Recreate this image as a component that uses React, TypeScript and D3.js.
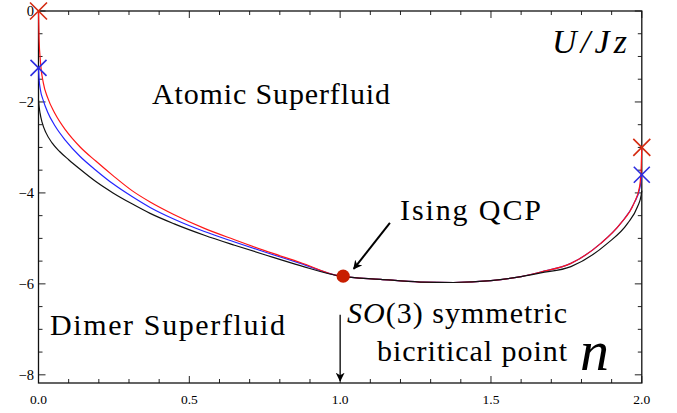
import React from 'react';
import * as d3 from 'd3';

// phase boundary curves as [n, U/Jz]
const redLeft: [number, number][] = [
  [0, 0], [0.002, -0.62], [0.006, -1.08], [0.016, -1.58], [0.03, -1.9], [0.055, -2.26],
  [0.09, -2.62], [0.138, -2.99], [0.19, -3.3], [0.247, -3.62], [0.31, -3.95], [0.37, -4.2],
  [0.45, -4.48], [0.55, -4.78], [0.65, -5.03], [0.75, -5.27], [0.868, -5.53],
];
const blueLeft: [number, number][] = [
  [0, -1.25], [0.002, -1.5], [0.006, -1.72], [0.016, -1.97], [0.03, -2.22], [0.055, -2.53],
  [0.09, -2.85], [0.138, -3.2], [0.19, -3.5], [0.247, -3.8], [0.31, -4.08], [0.37, -4.32],
  [0.45, -4.58], [0.55, -4.85], [0.65, -5.08], [0.75, -5.3], [0.868, -5.55],
];
const blackLeft: [number, number][] = [
  [0, -1.95], [0.002, -2.1], [0.005, -2.24], [0.012, -2.45], [0.025, -2.68], [0.045, -2.9],
  [0.07, -3.09], [0.1, -3.27], [0.138, -3.48], [0.19, -3.75], [0.247, -4.0], [0.31, -4.24],
  [0.37, -4.45], [0.45, -4.68], [0.55, -4.93], [0.65, -5.15], [0.75, -5.36], [0.868, -5.6],
];
// all three curves coincide here
const sharedMiddle: [number, number][] = [
  [1.0, -5.83], [1.134, -5.9], [1.266, -5.96], [1.376, -5.97], [1.5, -5.93], [1.6, -5.84],
];
const redRight: [number, number][] = [
  [1.665, -5.74], [1.765, -5.55], [1.864, -5.11], [1.93, -4.67], [1.974, -4.23],
  [1.993, -3.85], [1.998, -3.45], [2.0, -3.0],
];
const blueRight: [number, number][] = [
  [1.665, -5.74], [1.765, -5.55], [1.864, -5.11], [1.93, -4.67], [1.974, -4.23],
  [1.994, -3.88], [2.0, -3.6],
];
const blackRight: [number, number][] = [
  [1.665, -5.76], [1.765, -5.62], [1.886, -5.11], [1.953, -4.67], [1.986, -4.3],
  [1.998, -4.05], [2.0, -3.95],
];

const redCrosses: [number, number][] = [[0, 0], [2, -3.0]];
const blueCrosses: [number, number][] = [[0, -1.25], [2, -3.6]];
const isingPoint: [number, number] = [1.01, -5.83];

const xMajor = [0, 0.5, 1, 1.5, 2];
const xMinor = d3.range(0, 2.001, 0.1);
const yMajor = [0, -2, -4, -6, -8];
const yMinor = d3.range(0, -8.01, -0.5);

const W = 677, H = 413;
const FONT = "'Times New Roman'";

export default function App() {
  const x = d3.scaleLinear().domain([0, 2]).range([38.5, 641.8]);
  const y = d3.scaleLinear().domain([-8.18, 0]).range([383, 11]);

  const line = d3.line<[number, number]>()
    .x(d => x(d[0]))
    .y(d => y(d[1]))
    .curve(d3.curveMonotoneX);

  const red = [...redLeft, ...sharedMiddle, ...redRight];
  const blue = [...blueLeft, ...sharedMiddle, ...blueRight];
  const black = [...blackLeft, ...sharedMiddle, ...blackRight];

  const cross = (p: [number, number], r: number) => {
    const cx = x(p[0]), cy = y(p[1]);
    return `M${cx - r},${cy - r}L${cx + r},${cy + r}M${cx - r},${cy + r}L${cx + r},${cy - r}`;
  };

  const x0 = x(0), x1 = x(2), y0 = y(-8.18), y1 = y(0);

  const label = (key: string, lx: number, ly: number, size: number, content: React.ReactNode,
    opts: { len?: number; italic?: boolean; anchor?: string } = {}) => (
    <text key={key} x={lx} y={ly} fontSize={size} textAnchor={opts.anchor || 'start'}
      textLength={opts.len} lengthAdjust={opts.len ? 'spacing' : undefined}
      style={{ fontFamily: FONT, fontStyle: opts.italic ? 'italic' : 'normal' }}>
      {content}
    </text>
  );

  return (
    <svg width={W} height={H} style={{ position: 'absolute', left: 0, top: 0, fontFamily: FONT }}>
      <rect width={W} height={H} fill="#fff" />
      <defs>
        <marker id="head" viewBox="0 0 10 10" refX="9" refY="5" markerWidth="9" markerHeight="9"
          orient="auto" markerUnits="userSpaceOnUse">
          <path d="M0,0L10,5L0,10L3,5Z" fill="#000" />
        </marker>
      </defs>

      {/* ticks */}
      {xMinor.map((t, i) => {
        const big = Math.abs(t * 2 - Math.round(t * 2)) < 1e-6;
        const len = big ? 7 : 4;
        return (
          <g key={'xt' + i} stroke="#222" strokeWidth={1}>
            <line x1={x(t)} x2={x(t)} y1={y0} y2={y0 - len} />
            <line x1={x(t)} x2={x(t)} y1={y1} y2={y1 + len} />
          </g>
        );
      })}
      {yMinor.map((t, i) => {
        const big = Math.abs(t / 2 - Math.round(t / 2)) < 1e-6;
        const len = big ? 7 : 4;
        return (
          <g key={'yt' + i} stroke="#222" strokeWidth={1}>
            <line x1={x0} x2={x0 + len} y1={y(t)} y2={y(t)} />
            <line x1={x1} x2={x1 - len} y1={y(t)} y2={y(t)} />
          </g>
        );
      })}
      <rect x={x0} y={y1} width={x1 - x0} height={y0 - y1} fill="none" stroke="#111" strokeWidth={1.3} />

      {xMajor.map(t => label('xl' + t, x(t), 404, 13.5, t.toFixed(1), { anchor: 'middle' }))}
      {yMajor.map(t => label('yl' + t, 34, y(t) + 5, 14.5, t === 0 ? '0' : '\u2212' + Math.abs(t),
        { anchor: 'end' }))}

      {/* curves */}
      <path d={line(blue) || ''} fill="none" stroke="#2424ff" strokeWidth={1.2} />
      <path d={line(red) || ''} fill="none" stroke="#ff1616" strokeWidth={1.2} />
      <path d={line(black) || ''} fill="none" stroke="#111" strokeWidth={1.2} />

      {redCrosses.map((p, i) => (
        <path key={'rc' + i} d={cross(p, 8.5)} stroke="#d42a10" strokeWidth={1.6} fill="none" />
      ))}
      {blueCrosses.map((p, i) => (
        <path key={'bc' + i} d={cross(p, 8)} stroke="#2c2ce0" strokeWidth={1.6} fill="none" />
      ))}
      <circle cx={x(isingPoint[0])} cy={y(isingPoint[1])} r={6.6} fill="#c81e00" />

      {/* annotations */}
      {label('atomic', 152, 104, 30, 'Atomic Superfluid', { len: 238 })}
      {label('ising', 400, 220, 30, 'Ising QCP', { len: 141 })}
      <line x1={x(1.165)} y1={y(-4.66)} x2={x(1.045)} y2={y(-5.67)} stroke="#000" strokeWidth={2}
        markerEnd="url(#head)" />
      {label('dimer', 50, 335, 30, 'Dimer Superfluid', { len: 235 })}
      {label('so3', 347, 323, 30,
        <><tspan style={{ fontStyle: 'italic' }}>SO</tspan>(3) symmetric</>, { len: 220 })}
      {label('bicrit', 377, 361, 30, 'bicritical point', { len: 190 })}
      <line x1={x(1.0)} y1={y(-6.68)} x2={x(1.0)} y2={y(-8.13)} stroke="#000" strokeWidth={1.3}
        markerEnd="url(#head)" />
      {label('yname', 552, 53, 34, 'U/Jz', { len: 75, italic: true })}
      {label('xname', 580, 370, 58, 'n', { italic: true })}
    </svg>
  );
}
